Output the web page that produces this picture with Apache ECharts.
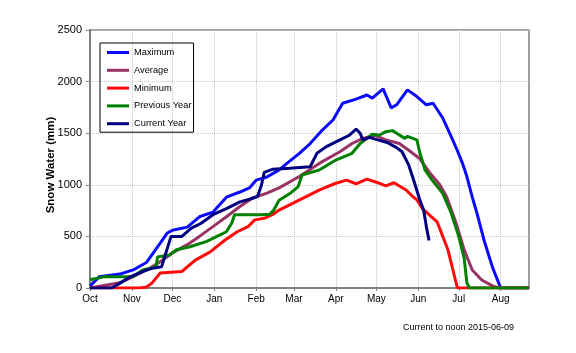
<!DOCTYPE html>
<html>
<head>
<meta charset="utf-8">
<script src="https://cdn.jsdelivr.net/npm/echarts@6/dist/echarts.min.js"></script>
<style>
  html, body { margin: 0; padding: 0; background: #fff; }
  #chart { width: 576px; height: 353px; }
</style>
</head>
<body>
<div id="chart"></div>
<script>
// days since Oct 1 for each month start, and their labels
var monthDays = [0, 31, 61, 92, 123, 151, 182, 212, 243, 273, 304];
var monthLabels = ['Oct', 'Nov', 'Dec', 'Jan', 'Feb', 'Mar', 'Apr', 'May', 'Jun', 'Jul', 'Aug'];
var yTicks = [0, 500, 1000, 1500, 2000, 2500];

// [day, snow water mm]
var maximum = [[0,20],[7,110],[22,135],[32,175],[42,250],[52,435],[57,530],[61,560],[72,590],[81,690],[91,735],
  [101,880],[111,930],[118,970],[123,1045],[131,1075],[140,1145],[146,1210],[155,1305],[163,1400],[172,1530],
  [180,1630],[187,1790],[197,1830],[205,1870],[209,1840],[217,1930],[223,1745],[227,1775],[235,1920],[242,1855],
  [249,1775],[254,1790],[261,1650],[268,1450],[272,1330],[276,1200],[279,1080],[283,880],[287,700],[292,450],
  [298,200],[304,0],[325,0]];
var average = [[0,0],[22,50],[32,110],[42,175],[52,255],[61,340],[72,420],[81,500],[91,595],[101,690],[111,790],
  [120,870],[131,920],[140,970],[155,1080],[170,1210],[185,1320],[194,1400],[202,1450],[207,1465],[211,1480],
  [219,1435],[229,1400],[236,1335],[244,1255],[251,1125],[259,1000],[264,885],[271,630],[277,370],[283,175],
  [290,78],[298,20],[303,0],[325,0]];
var minimum = [[0,0],[24,0],[37,0],[42,10],[46,50],[52,145],[53,160],[68,160],[78,270],[89,350],[100,465],
  [109,545],[117,595],[122,660],[129,675],[135,710],[140,755],[150,820],[160,885],[170,950],[182,1015],
  [190,1045],[197,1010],[205,1055],[212,1025],[219,990],[225,1020],[234,950],[239,885],[242,855],[246,770],
  [257,640],[265,370],[272,0],[325,0]];
var previousYear = [[0,80],[11,110],[32,110],[39,175],[44,190],[49,210],[50,300],[59,320],[64,370],[74,400],
  [86,450],[94,500],[101,545],[105,630],[107,710],[126,710],[133,715],[136,755],[140,850],[148,915],[154,980],
  [157,1095],[170,1145],[182,1240],[194,1305],[200,1400],[205,1450],[209,1490],[214,1480],[219,1515],[224,1525],
  [227,1500],[233,1450],[235,1470],[242,1435],[244,1320],[248,1145],[253,1050],[261,920],[267,740],[273,500],
  [277,290],[279,50],[281,0],[325,0]];
var currentYear = [[0,0],[16,0],[22,45],[30,110],[42,175],[46,190],[53,205],[55,290],[58,415],[60,500],[68,500],
  [75,580],[82,625],[91,710],[101,770],[111,835],[118,860],[124,885],[127,1000],[129,1120],[135,1150],[148,1160],
  [163,1175],[168,1305],[175,1370],[185,1435],[192,1480],[197,1540],[200,1500],[202,1435],[207,1460],[213,1435],
  [220,1410],[227,1360],[231,1320],[236,1190],[240,1030],[244,860],[247,755],[249,595],[251,460]];

var dom = document.getElementById('chart');
var myChart = echarts.init(dom);

function line(name, data, color) {
  return {
    name: name, type: 'line', data: data, showSymbol: false, symbol: 'none',
    lineStyle: { color: color, width: 3 }, itemStyle: { color: color }
  };
}

var option = {
  animation: false,
  backgroundColor: '#fff',
  textStyle: { fontFamily: 'Liberation Sans, Arial, sans-serif' },
  title: {
    text: 'Current to noon 2015-06-09',
    left: 398, top: 318,
    textStyle: { fontSize: 9, fontWeight: 'normal', color: '#000' }
  },
  grid: {
    left: 90, right: 47, top: 30, bottom: 65,
    show: true, borderColor: '#808080', borderWidth: 1.5
  },
  legend: {
    orient: 'vertical', left: 100, top: 43,
    padding: [4, 2, 3, 7],
    borderColor: '#000', borderWidth: 1,
    itemWidth: 22, itemHeight: 3, itemGap: 6.8,
    icon: 'rect',
    textStyle: { fontSize: 9.3, color: '#000', lineHeight: 11 },
    data: ['Maximum', 'Average', 'Minimum', 'Previous Year', 'Current Year']
  },
  xAxis: {
    type: 'value', min: 0, max: 325,
    axisLine: { lineStyle: { color: '#808080', width: 2 } },
    axisTick: { customValues: monthDays, length: 3, lineStyle: { color: '#808080' } },
    axisLabel: {
      customValues: monthDays, fontSize: 10, color: '#000', margin: 6,
      formatter: function (v) { return monthLabels[monthDays.indexOf(v)]; }
    },
    splitLine: { show: true, lineStyle: { color: '#c8c8c8', type: 'dotted' } }
  },
  yAxis: {
    type: 'value', min: yTicks[0], max: yTicks[yTicks.length - 1], interval: 500,
    name: 'Snow Water (mm)', nameLocation: 'middle', nameGap: 33, nameMoveOverlap: false,
    nameTextStyle: { fontSize: 11.5, fontWeight: 'bold', color: '#000', padding: [0, 12, 0, 0] },
    axisLine: { show: true, lineStyle: { color: '#808080', width: 2 } },
    axisTick: { show: true, length: 4, lineStyle: { color: '#808080' } },
    axisLabel: { fontSize: 11, color: '#000', margin: 8, formatter: function (v) { return String(v); } },
    splitLine: { show: true, lineStyle: { color: '#c8c8c8', type: 'dotted' } }
  },
  series: [
    line('Maximum', maximum, '#0a0aff'),
    line('Average', average, '#993366'),
    line('Minimum', minimum, '#ff0a0a'),
    line('Previous Year', previousYear, '#008000'),
    line('Current Year', currentYear, '#000080')
  ]
};

window.onresize = function () {
  myChart.resize();
};

if (option && typeof option === 'object') {
  myChart.setOption(option);
}
</script>
</body>
</html>
